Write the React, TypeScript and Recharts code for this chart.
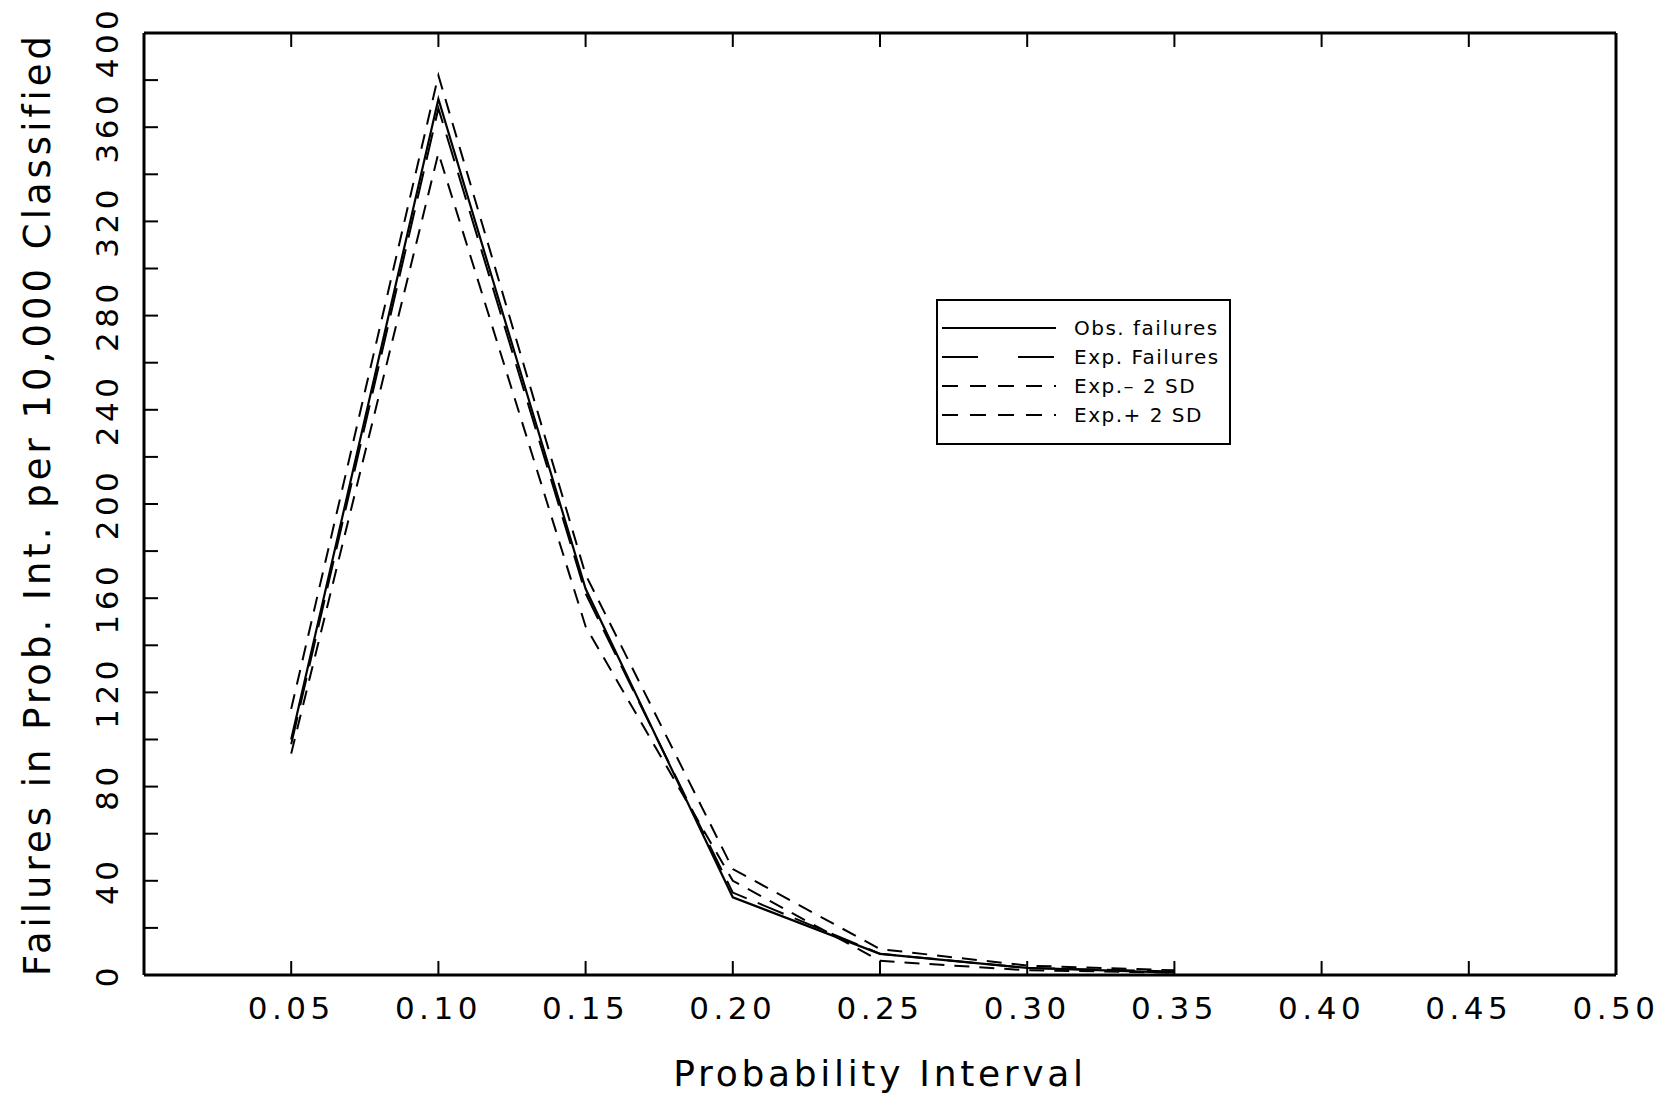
import { LineChart, Line, XAxis, YAxis, Legend } from "recharts";

// probability interval (upper bound of each bin)
const PROB = [0.05, 0.1, 0.15, 0.2, 0.25, 0.3, 0.35];
const OBS_FAILURES = [100, 372, 164, 33, 9, 3, 1];
const EXP_FAILURES = [98, 368, 162, 35, 9, 3, 1.5];
const EXP_MINUS_2SD = [94, 349, 148, 40, 6, 2, 1];
const EXP_PLUS_2SD = [113, 382, 170, 45, 11, 4, 2];

const X_TICKS = [0.05, 0.1, 0.15, 0.2, 0.25, 0.3, 0.35, 0.4, 0.45, 0.5];
const Y_TICKS = [0, 40, 80, 120, 160, 200, 240, 280, 320, 360, 400];
const Y_MINOR = [0, 20, 40, 60, 80, 100, 120, 140, 160, 180, 200, 220, 240, 260, 280, 300, 320, 340, 360, 380, 400];

const FONT = "'DejaVu Sans', sans-serif";
const INK = "#000";
const TICK_LEN = 14;

const SERIES = [
  { key: "obs", name: "Obs. failures", values: OBS_FAILURES, dash: undefined, legendDash: undefined },
  { key: "exp", name: "Exp. Failures", values: EXP_FAILURES, dash: "28 12", legendDash: "36 40" },
  { key: "minus", name: "Exp.\u2013 2 SD", values: EXP_MINUS_2SD, dash: "15 10", legendDash: "16 12" },
  { key: "plus", name: "Exp.+ 2 SD", values: EXP_PLUS_2SD, dash: "15 10", legendDash: "16 12" },
];

const data = PROB.map((p, i) => {
  const row: Record<string, number> = { p };
  SERIES.forEach((s) => (row[s.key] = s.values[i]));
  return row;
});

// bottom axis: label below, tick mark pointing into the plot
const XTick = ({ x, y, payload }: any) => (
  <g>
    <line x1={x} y1={y} x2={x} y2={y - TICK_LEN} stroke={INK} strokeWidth={2} />
    <text
      x={x}
      y={y + 33}
      textAnchor="middle"
      dominantBaseline="central"
      fontFamily={FONT}
      fontSize={31}
      letterSpacing={4.5}
      fill={INK}
    >
      {payload.value.toFixed(2)}
    </text>
  </g>
);

const TopTick = ({ x, y }: any) => (
  <line x1={x} y1={y} x2={x} y2={y + TICK_LEN} stroke={INK} strokeWidth={2} />
);

const RightTick = ({ x, y }: any) => (
  <line x1={x} y1={y} x2={x - TICK_LEN} y2={y} stroke={INK} strokeWidth={2} />
);

// left axis: minor ticks every 20, labels every 40 (rotated)
const YTick = ({ x, y, payload }: any) => {
  const cx = x - 37;
  // keep the top label inside the page
  const cy = Math.max(y, 42);
  const labelled = Y_TICKS.includes(payload.value);
  return (
    <g>
      <line x1={x} y1={y} x2={x + TICK_LEN} y2={y} stroke={INK} strokeWidth={2} />
      {labelled && (
        <text
          x={cx}
          y={cy}
          transform={`rotate(-90, ${cx}, ${cy})`}
          textAnchor="middle"
          dominantBaseline="central"
          fontFamily={FONT}
          fontSize={31}
          letterSpacing={4.5}
          fill={INK}
        >
          {payload.value}
        </text>
      )}
    </g>
  );
};

const YTitle = ({ viewBox }: any) => {
  const cx = viewBox.x + 37;
  const cy = viewBox.y + viewBox.height / 2;
  return (
    <text
      x={cx}
      y={cy}
      transform={`rotate(-90, ${cx}, ${cy})`}
      textAnchor="middle"
      dominantBaseline="central"
      fontFamily={FONT}
      fontSize={37}
      letterSpacing={4}
      fill={INK}
    >
      Failures in Prob. Int. per 10,000 Classified
    </text>
  );
};

const XTitle = ({ viewBox }: any) => (
  <text
    x={viewBox.x + viewBox.width / 2}
    y={viewBox.y + 98}
    textAnchor="middle"
    dominantBaseline="central"
    fontFamily={FONT}
    fontSize={36}
    letterSpacing={3.7}
    fill={INK}
  >
    Probability Interval
  </text>
);

const LegendBox = () => (
  <div
    style={{
      width: 295,
      border: "2px solid #000",
      background: "#fff",
      padding: "12px 0 14px 4px",
      fontFamily: FONT,
      fontSize: 20,
      letterSpacing: 1.5,
      color: INK,
      boxSizing: "border-box",
    }}
  >
    {SERIES.map((s) => (
      <div key={s.key} style={{ display: "flex", alignItems: "center", height: 29 }}>
        <svg width={116} height={10} style={{ marginRight: 16 }}>
          <line x1={0} y1={5} x2={114} y2={5} stroke={INK} strokeWidth={2} strokeDasharray={s.legendDash} />
        </svg>
        <span style={{ whiteSpace: "nowrap" }}>{s.name}</span>
      </div>
    ))}
  </div>
);

const App = () => (
  <div style={{ position: "absolute", left: 0, top: 0, background: "#fff" }}>
    <LineChart width={1677} height={1101} data={data} margin={{ top: 0, right: 0, bottom: 0, left: 0 }}>
      <XAxis
        xAxisId="x"
        dataKey="p"
        type="number"
        domain={[0, 0.5]}
        ticks={X_TICKS}
        tick={<XTick />}
        tickLine={false}
        tickSize={0}
        tickMargin={0}
        axisLine={{ stroke: INK, strokeWidth: 3 }}
        height={126}
        label={<XTitle />}
      />
      <XAxis
        xAxisId="xTop"
        orientation="top"
        dataKey="p"
        type="number"
        domain={[0, 0.5]}
        ticks={X_TICKS}
        tick={<TopTick />}
        tickLine={false}
        tickSize={0}
        tickMargin={0}
        axisLine={{ stroke: INK, strokeWidth: 3 }}
        height={33}
      />
      <YAxis
        yAxisId="y"
        type="number"
        domain={[0, 400]}
        ticks={Y_MINOR}
        interval={0}
        tick={<YTick />}
        tickLine={false}
        tickSize={0}
        tickMargin={0}
        axisLine={{ stroke: INK, strokeWidth: 3 }}
        width={144}
        label={<YTitle />}
      />
      <YAxis
        yAxisId="yRight"
        orientation="right"
        type="number"
        domain={[0, 400]}
        ticks={Y_MINOR}
        interval={0}
        tick={<RightTick />}
        tickLine={false}
        tickSize={0}
        tickMargin={0}
        axisLine={{ stroke: INK, strokeWidth: 3 }}
        width={61}
      />
      <Legend
        content={<LegendBox />}
        layout="horizontal"
        align="center"
        verticalAlign="middle"
        wrapperStyle={{ left: 936, top: 299, width: 300 }}
      />
      {SERIES.map((s) => (
        <Line
          key={s.key}
          xAxisId="x"
          yAxisId="y"
          dataKey={s.key}
          name={s.name}
          type="linear"
          stroke={INK}
          strokeWidth={s.dash ? 2 : 2.2}
          strokeDasharray={s.dash}
          dot={false}
          activeDot={false}
          isAnimationActive={false}
        />
      ))}
    </LineChart>
  </div>
);

export default App;
